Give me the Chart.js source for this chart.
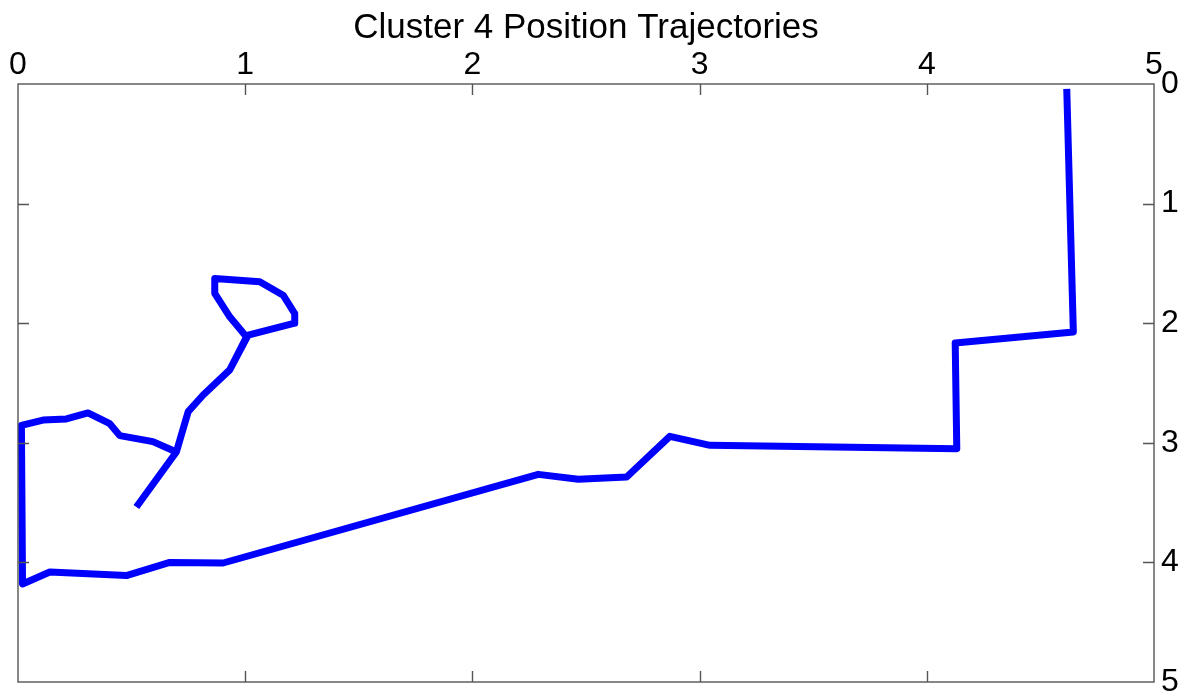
<!DOCTYPE html>
<html>
<head>
<meta charset="utf-8">
<script src="https://cdn.jsdelivr.net/npm/chart.js@4.4.1/dist/chart.umd.min.js"></script>
<style>
  html, body { margin: 0; padding: 0; background: #fff; }
  #wrap { width: 1193px; height: 696px; position: relative; }
</style>
</head>
<body>
<div id="wrap"><canvas id="c"></canvas></div>
<script>
const chartTitle = 'Cluster 4 Position Trajectories';
const xTicks = [0, 1, 2, 3, 4, 5];
const yTicks = [0, 1, 2, 3, 4, 5];

// Trajectory (x, y), in path order
const pathX = [4.616, 4.645, 4.125, 4.132, 3.046, 2.869, 2.679, 2.466, 2.290, 0.903, 0.668, 0.477, 0.140, 0.020,
               0.015, 0.110, 0.213, 0.308, 0.404, 0.448, 0.594, 0.697, 0.749, 0.815, 0.932, 1.006,
               0.932, 0.866, 0.866, 1.064, 1.167, 1.218, 1.218, 1.013, 0.932, 0.815, 0.749, 0.697, 0.521];
const pathY = [0.040, 2.073, 2.165, 3.049, 3.021, 2.946, 3.286, 3.305, 3.264, 4.005, 4.000, 4.110, 4.080, 4.180,
               2.854, 2.810, 2.800, 2.750, 2.840, 2.940, 2.990, 3.077, 2.740, 2.600, 2.390, 2.115,
               1.947, 1.750, 1.626, 1.654, 1.766, 1.919, 2.000, 2.100, 2.390, 2.600, 2.740, 3.077, 3.537];

const points = pathX.map((x, i) => ({ x: x, y: pathY[i] }));

const FONT = "'Liberation Sans', Arial, sans-serif";
const AXIS_COLOR = '#555';
const TICK_LEN = 11;

const boxTicks = {
  id: 'boxTicks',
  afterDraw(chart) {
    const { ctx, chartArea: a, scales } = chart;
    const xs = scales.x, ys = scales.y;
    ctx.save();
    ctx.strokeStyle = AXIS_COLOR;
    ctx.lineWidth = 1.4;
    ctx.strokeRect(a.left, a.top, a.right - a.left, a.bottom - a.top);
    ctx.beginPath();
    xTicks.forEach(v => {
      if (v === xs.min || v === xs.max) return;
      const px = Math.round(xs.getPixelForValue(v)) + 0.5;
      ctx.moveTo(px, a.top); ctx.lineTo(px, a.top + TICK_LEN);
      ctx.moveTo(px, a.bottom); ctx.lineTo(px, a.bottom - TICK_LEN);
    });
    yTicks.forEach(v => {
      if (v === ys.min || v === ys.max) return;
      const py = Math.round(ys.getPixelForValue(v)) + 0.5;
      ctx.moveTo(a.left, py); ctx.lineTo(a.left + TICK_LEN, py);
      ctx.moveTo(a.right, py); ctx.lineTo(a.right - TICK_LEN, py);
    });
    ctx.stroke();
    // title centred over the plot box
    ctx.fillStyle = '#000';
    ctx.font = '35px ' + FONT;
    ctx.textAlign = 'center';
    ctx.textBaseline = 'alphabetic';
    ctx.fillText(chartTitle, (a.left + a.right) / 2, 38);
    ctx.restore();
  }
};

new Chart(document.getElementById('c'), {
  type: 'scatter',
  data: {
    datasets: [{
      data: points,
      showLine: true,
      borderColor: '#0000ff',
      backgroundColor: '#0000ff',
      borderWidth: 7,
      pointRadius: 0,
      pointHoverRadius: 0,
      tension: 0,
      borderJoinStyle: 'round',
      borderCapStyle: 'butt',
      clip: false
    }]
  },
  options: {
    responsive: true,
    maintainAspectRatio: false,
    animation: false,
    events: [],
    layout: { padding: { left: 18, right: 0, top: 47, bottom: 14 } },
    plugins: {
      legend: { display: false },
      tooltip: { enabled: false },
      title: { display: false }
    },
    scales: {
      x: {
        type: 'linear',
        position: 'top',
        min: 0, max: 5,
        afterBuildTicks: s => { s.ticks = xTicks.map(v => ({ value: v })); },
        ticks: { color: '#000', font: { family: FONT, size: 32 }, padding: 0, maxRotation: 0, autoSkip: false },
        grid: { display: false, drawTicks: false },
        border: { display: false },
        afterFit: s => { s.height = 37; s.paddingLeft = 0; s.paddingRight = 0; }
      },
      y: {
        type: 'linear',
        position: 'right',
        reverse: true,
        min: 0, max: 5,
        afterBuildTicks: s => { s.ticks = yTicks.map(v => ({ value: v })); },
        ticks: { color: '#000', font: { family: FONT, size: 32 }, padding: 7, autoSkip: false },
        grid: { display: false, drawTicks: false },
        border: { display: false },
        afterFit: s => { s.width = 39; s.paddingTop = 0; s.paddingBottom = 0; }
      }
    }
  },
  plugins: [boxTicks]
});
</script>
</body>
</html>
